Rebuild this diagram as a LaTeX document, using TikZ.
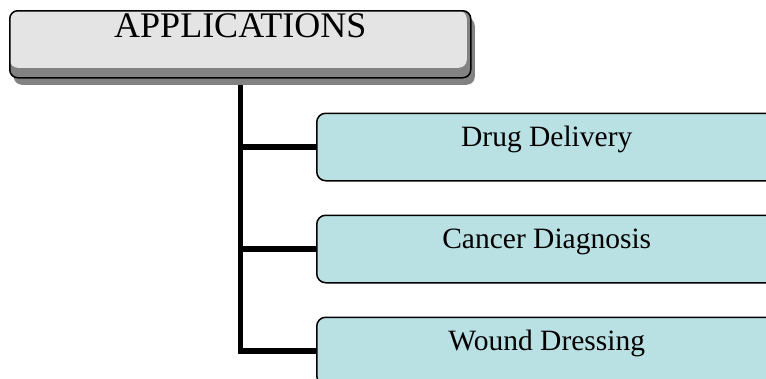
\documentclass[tikz,border=0pt]{standalone}
\usepackage{fontspec}
\setmainfont{Liberation Serif}
\usetikzlibrary{shadows,backgrounds}
\definecolor{lightfill}{HTML}{E4E4E4}
\definecolor{bandgray}{HTML}{828282}
\definecolor{cyanfill}{HTML}{B9E0E3}
\tikzset{
  headbox/.style={draw=black, line width=1.5pt, rounded corners=8pt, fill=bandgray,
    minimum width=461pt, minimum height=67pt, inner xsep=0pt, inner ysep=0pt,
    text height=27pt, text depth=40pt, anchor=north west,
    font=\fontsize{36}{40}\selectfont,
    drop shadow={shadow xshift=4pt, shadow yshift=-7pt, fill=bandgray, opacity=1},
    path picture={\fill[lightfill] (path picture bounding box.north west) rectangle ([xshift=-4pt,yshift=10pt]path picture bounding box.south east);}},
  itembox/.style={draw=black, line width=1.5pt, rounded corners=9pt, fill=cyanfill,
    minimum width=460pt, minimum height=67.5pt, inner xsep=0pt, inner ysep=0pt,
    text height=33pt, text depth=34.5pt, anchor=north west,
    font=\fontsize{29.5}{34}\selectfont},
  conn/.style={draw=black, line width=5.5pt}
}
\begin{document}
\begin{tikzpicture}[x=1pt,y=-1pt]
\useasboundingbox (0,0) rectangle (766,378);
\clip (0,0) rectangle (766,378);
\node[headbox] (top) at (9,10) {APPLICATIONS};
\node[itembox] (dd) at (316,112.5) {Drug Delivery};
\node[itembox] (cd) at (316,214.5) {Cancer Diagnosis};
\node[itembox] (wd) at (316,316.5) {Wound Dressing};
\begin{pgfonlayer}{background}
\draw[conn] (top.south) |- (wd.west);
\draw[conn] (top.south |- dd.west) -- (dd.west);
\draw[conn] (top.south |- cd.west) -- (cd.west);
\end{pgfonlayer}
\end{tikzpicture}
\end{document}
